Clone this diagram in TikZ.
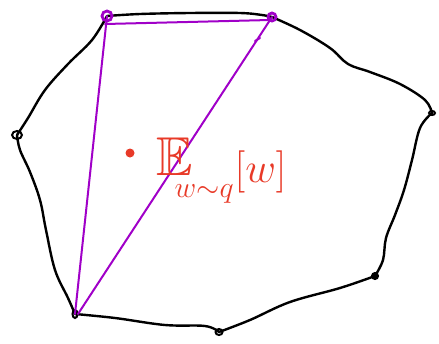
\documentclass[tikz,border=0pt]{standalone}
\usepackage{amssymb}
\usepackage{graphicx}
\begin{document}
\begin{tikzpicture}[x=1pt,y=-1pt,
  hull/.style={line width=2.4pt,black,line cap=round,line join=round},
  chord/.style={line width=2pt,line cap=round},
  knot/.style={line width=2pt,black},
  pknot/.style={line width=2.8pt},
  lbl/.style={font=\Huge,inner sep=0pt}]
\definecolor{pp}{RGB}{160,0,200}
\definecolor{rr}{RGB}{232,58,40}
\useasboundingbox (0,0) rectangle (439,343);
\coordinate (A) at (107,16);
\coordinate (B) at (272,17);
\coordinate (C) at (432,113);
\coordinate (D) at (375,276);
\coordinate (E) at (219,332);
\coordinate (F) at (75,314);
\coordinate (G) at (17,135);
% hull
\draw[hull] plot[smooth,tension=0.6] coordinates {(A) (140,14) (190,13) (240,13) (262,15) (B)};
\draw[hull] plot[smooth,tension=0.6] coordinates {(B) (300,30) (330,48) (348,64) (370,72) (400,84) (425,100) (C)};
\draw[hull] plot[smooth,tension=0.6] coordinates {(C) (420,128) (412,160) (404,190) (395,215) (386,238) (383,260) (D)};
\draw[hull] plot[smooth,tension=0.6] coordinates {(D) (340,288) (290,302) (250,320) (E)};
\draw[hull] plot[smooth,tension=0.6] coordinates {(E) (205,326) (165,325) (115,318) (F)};
\draw[hull] plot[smooth,tension=0.6] coordinates {(F) (68,298) (55,270) (46,230) (40,200) (30,172) (20,150) (G)};
\draw[hull] plot[smooth,tension=0.6] coordinates {(G) (28,118) (45,90) (68,64) (92,40) (A)};
% knots
\draw[knot] (G) ellipse (5 and 4);
\draw[knot] (E) ellipse (3.5 and 3);
\draw[knot] (F) ellipse (2.5 and 4);
\draw[knot,fill=black] (D) circle (3);
\draw[knot] (C) ellipse (3 and 2);
% chords
\draw[chord,draw=pp] (A) ++(-2,8) -- (270,20);
\draw[chord,draw=pp] (A) -- (F);
\draw[chord,draw=pp] (B) -- (78,314);
\draw[chord,draw=pp] (255,41) -- (260,38);
\draw[pknot,draw=pp] (A) circle (5);
\draw[pknot,draw=pp] (B) circle (4);
% expectation
\fill[rr] (130,153) circle (4.5);
\node[lbl,text=rr,anchor=base west] (ex) at (156,175) {\scalebox{2.2}{$\mathbb{E}$}\hspace{-18pt}\rlap{\raisebox{-22pt}{\scalebox{1.2}{$w{\sim}q$}}}\hspace{60pt}\raisebox{-7pt}{\scalebox{1.7}{$[w]$}}};
\end{tikzpicture}
\end{document}
